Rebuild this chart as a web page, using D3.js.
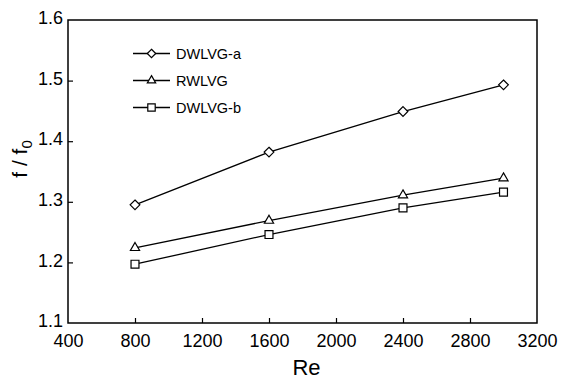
<!DOCTYPE html>
<html lang="en">
<head>
  <meta charset="UTF-8">
  <title>f/f0 vs Re</title>
  <script src="https://d3js.org/d3.v7.min.js"></script>
  <style>
    body { margin: 0; background: #fff; }
    text { font-family: "Liberation Sans", Arial, sans-serif; fill: #000; }
  </style>
</head>
<body>
  <svg id="chart" width="561" height="380"></svg>

  <script>
    // data
    const reValues = [800, 1600, 2400, 3000];
    const dwlvgA = [1.295, 1.382, 1.449, 1.493];
    const rwlvg = [1.224, 1.269, 1.311, 1.339];
    const dwlvgB = [1.197, 1.246, 1.290, 1.316];
    const seriesNames = ["DWLVG-a", "RWLVG", "DWLVG-b"];
    const xTicks = [400, 800, 1200, 1600, 2000, 2400, 2800, 3200];
    const yTicks = [1.1, 1.2, 1.3, 1.4, 1.5, 1.6];

    const series = [
      { name: seriesNames[0], values: dwlvgA, shape: "diamond" },
      { name: seriesNames[1], values: rwlvg, shape: "triangle" },
      { name: seriesNames[2], values: dwlvgB, shape: "square" }
    ];

    const svg = d3.select("#chart");
    const margin = { top: 20, right: 24, bottom: 57, left: 68 };
    const width = +svg.attr("width") - margin.left - margin.right;
    const height = +svg.attr("height") - margin.top - margin.bottom;

    const g = svg.append("g").attr("transform", `translate(${margin.left},${margin.top})`);

    const x = d3.scaleLinear().domain([400, 3200]).range([0, width]);
    const y = d3.scaleLinear().domain([1.1, 1.6]).range([height, 0]);

    // frame
    g.append("rect")
      .attr("width", width).attr("height", height)
      .attr("fill", "none").attr("stroke", "#000").attr("stroke-width", 1.5);

    // axes with inward ticks
    const xAxis = g.append("g")
      .attr("transform", `translate(0,${height})`)
      .call(d3.axisBottom(x).tickValues(xTicks).tickSize(-5).tickPadding(11).tickFormat(d3.format("d")));
    const yAxis = g.append("g")
      .call(d3.axisLeft(y).tickValues(yTicks).tickSize(-5).tickPadding(5).tickFormat(d3.format(".1f")));

    [xAxis, yAxis].forEach(a => {
      a.select(".domain").remove();
      a.selectAll(".tick line").attr("stroke", "#000").attr("stroke-width", 1.2);
      a.selectAll(".tick text").attr("font-size", 18).attr("font-family", "Liberation Sans, Arial, sans-serif");
    });
    yAxis.selectAll(".tick text").attr("dy", "0.2em");
    xAxis.selectAll(".tick").filter(d => d === 400 || d === 3200).select("line").remove();
    yAxis.selectAll(".tick").filter(d => d === 1.1 || d === 1.6).select("line").remove();

    // axis titles
    svg.append("text")
      .attr("x", margin.left + width / 2 + 4).attr("y", 375)
      .attr("text-anchor", "middle").attr("font-size", 22)
      .text("Re");

    const yt = svg.append("text")
      .attr("transform", "translate(27,159) rotate(-90)")
      .attr("text-anchor", "middle").attr("font-size", 21);
    yt.append("tspan").text("f / f");
    yt.append("tspan").attr("font-size", 15).attr("dy", 5).text("0");

    // marker drawing
    const symbolFor = {
      diamond: d3.symbol().type(d3.symbolDiamond2).size(60),
      triangle: d3.symbol().type(d3.symbolTriangle2).size(60),
      square: d3.symbol().type(d3.symbolSquare2).size(80)
    };
    const legendSymbol = {
      diamond: d3.symbol().type(d3.symbolDiamond2).size(45),
      triangle: d3.symbol().type(d3.symbolTriangle2).size(50),
      square: d3.symbol().type(d3.symbolSquare2).size(70)
    };

    const line = d3.line().x(d => x(d[0])).y(d => y(d[1]));

    series.forEach(s => {
      const pts = reValues.map((r, i) => [r, s.values[i]]);
      g.append("path")
        .datum(pts)
        .attr("fill", "none").attr("stroke", "#000").attr("stroke-width", 1.3)
        .attr("d", line);
      g.selectAll(null)
        .data(pts)
        .join("path")
        .attr("transform", d => `translate(${x(d[0])},${y(d[1])})`)
        .attr("d", symbolFor[s.shape])
        .attr("fill", "#fff").attr("stroke", "#000").attr("stroke-width", 1.2);
    });

    // legend
    const legend = g.append("g").attr("transform", "translate(65,33.5)");
    series.forEach((s, i) => {
      const row = legend.append("g").attr("transform", `translate(0,${i * 27})`);
      row.append("line")
        .attr("x1", 0).attr("x2", 37).attr("y1", 0).attr("y2", 0)
        .attr("stroke", "#000").attr("stroke-width", 1.3);
      row.append("path")
        .attr("transform", "translate(18.5,0)")
        .attr("d", legendSymbol[s.shape])
        .attr("fill", "#fff").attr("stroke", "#000").attr("stroke-width", 1.2);
      row.append("text")
        .attr("x", 43).attr("y", 5.5)
        .attr("font-size", 14.5)
        .text(s.name);
    });
  </script>
</body>
</html>
